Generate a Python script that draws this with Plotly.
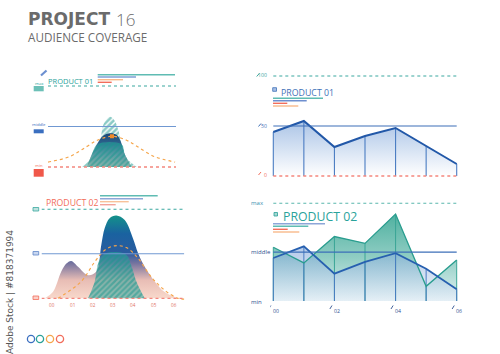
import plotly.graph_objects as go

W, H = 500, 354
def PX(x): return x / W
def PY(y): return 1 - y / H

# ---------------- data ----------------
levels = [0, 50, 100]
p1_orange_x = [-0.5, 0.7, 1.6, 2.2, 3.0, 3.8, 4.4, 5.3, 6.45]
p1_orange_y = [6, 13, 25, 33, 38, 33, 25, 13, 6]
p1_hatch_x = [1.34, 2.07, 2.34, 2.52, 2.71, 2.89, 3.12, 3.34, 3.53, 3.80, 4.35]
p1_hatch_y = [0, 15, 31, 52, 59, 62, 58, 46, 27, 11, 0]
p1_dark_x = [1.62, 1.89, 2.25, 2.52, 2.89, 3.26, 3.49, 3.71, 4.08]
p1_dark_y = [0, 15, 31, 38.6, 41.6, 39.5, 31, 15, 0]
p1_dark_low_x = [1.62, 1.89, 2.2, 3.52, 3.71, 4.08]
p1_dark_low_y = [0, 15, 28, 28, 15, 0]
p1_peak = (3.0, 38)

p2_shape_x = [-0.34, 0.06, 0.47, 0.72, 0.96, 1.29, 1.78, 2.19, 2.43, 2.60, 2.84, 3.17, 3.58, 3.99, 4.23, 4.56, 5.05, 5.54, 6.19]
p2_shape_y = [0, 7, 30, 39, 42, 35.5, 26, 30, 60, 79, 90, 93, 88, 67, 51, 35.5, 19, 7, 0]
p2_orange_x = [0.31, 1.45, 2.11, 2.60, 3.09, 3.66, 4.23, 4.88, 5.54, 6.19, 6.5]
p2_orange_y = [0, 19, 41, 54, 59, 57, 45, 24, 9, 0, -1]
p2_hatch_x = [1.78, 2.11, 2.27, 2.51, 3.09, 3.66, 3.90, 4.15, 4.56]
p2_hatch_y = [0, 19, 39, 49, 52, 49, 37, 19, 0]
p2_ticks = ["00", "01", "02", "03", "04", "05", "06"]

line_x = [0, 1, 2, 3, 4, 5, 6]
p3_values = [44, 55, 29, 40, 48, 30, 12]
p4_teal = [55, 39, 66, 59, 89, 15, 42]
p4_blue = [44, 56, 28, 40, 49, 33, 12]
p3_labels = ["0", "50", "100"]
p4_labels = ["min", "middle", "max"]
p4_ticks = ["00", "02", "04", "06"]
p4_tickpos = [0, 2, 4, 6]

TEAL = '#2aa39b'
BLUE = '#3466b4'
ORANGE = '#f5a54a'
RED = '#f26d5b'

fig = go.Figure()

def sc(ax, **kw):
    kw.setdefault('hoverinfo', 'skip')
    fig.add_trace(go.Scatter(xaxis='x' + ax if ax != '1' else 'x',
                             yaxis='y' + ax if ax != '1' else 'y', **kw))

HATCH = dict(shape='/', fgcolor='#17978d', size=4, solidity=0.65)

# ---------------- panel 1 ----------------
sc('1', x=p1_hatch_x, y=p1_hatch_y, mode='lines', line=dict(width=0, shape='spline', color=TEAL),
   fill='tozeroy', fillpattern=dict(HATCH, bgcolor='white'))
sc('1', x=p1_dark_x, y=p1_dark_y, mode='lines', line=dict(width=0, shape='spline', color='#1d4f80'),
   fill='tozeroy', fillgradient=dict(type='vertical', start=0, stop=42,
                                     colorscale=[[0, '#edc7bd'], [0.35, '#8a94ad'], [0.65, '#2f6790'], [1, '#1b4677']]))
sc('1', x=p1_dark_low_x, y=p1_dark_low_y, mode='lines', line=dict(width=0, shape='spline', color=TEAL),
   fill='tozeroy', fillpattern=dict(HATCH, solidity=0.5))
sc('1', x=p1_orange_x, y=p1_orange_y, mode='lines',
   line=dict(width=1.2, shape='spline', color=ORANGE, dash='dot'))
sc('1', x=[p1_peak[0]], y=[p1_peak[1]], mode='markers',
   marker=dict(size=4, color='#f08a2a', symbol='square'))

# ---------------- panel 2 ----------------
sc('2', x=p2_shape_x, y=p2_shape_y, mode='lines', line=dict(width=0, shape='spline', color='#1d5f9e'),
   fill='tozeroy', fillgradient=dict(type='vertical', start=0, stop=93,
       colorscale=[[0, '#f8d8cb'], [0.22, '#e8bdb5'], [0.42, '#77749f'], [0.55, '#2a5c9f'],
                   [0.78, '#1a62a0'], [1, '#13928a']]))
sc('2', x=p2_hatch_x, y=p2_hatch_y, mode='lines', line=dict(width=0, shape='spline', color=TEAL),
   fill='tozeroy', fillpattern=dict(HATCH, solidity=0.55))
sc('2', x=p2_orange_x, y=p2_orange_y, mode='lines',
   line=dict(width=1.2, shape='spline', color=ORANGE, dash='dot'))

# ---------------- panel 3 ----------------
sc('3', x=line_x, y=p3_values, mode='lines', line=dict(width=0, color=BLUE),
   fill='tozeroy', fillgradient=dict(type='vertical', start=0, stop=56,
                                     colorscale=[[0, 'rgba(255,255,255,1)'], [1, '#a9c3e6']]))
vx, vy = [], []
for xv, yv in zip(line_x, p3_values):
    vx += [xv, xv, None]; vy += [0, yv, None]
sc('3', x=vx, y=vy, mode='lines', line=dict(width=1.1, color='#4a7cc2'))
sc('3', x=line_x, y=p3_values, mode='lines', line=dict(width=2, color='#2258a8'), cliponaxis=False)

# ---------------- panel 4 ----------------
sc('4', x=line_x, y=p4_teal, mode='lines', line=dict(width=0, color=TEAL),
   fill='tozeroy', fillgradient=dict(type='vertical', start=0, stop=90,
                                     colorscale=[[0, '#e3f2f3'], [0.5, '#8fcdc3'], [1, '#4eb09f']]))
sc('4', x=line_x, y=p4_blue, mode='lines', line=dict(width=0, color=BLUE),
   fill='tozeroy', fillgradient=dict(type='vertical', start=0, stop=56,
                                     colorscale=[[0, 'rgba(230,238,248,0.6)'], [1, 'rgba(120,160,215,0.55)']]))
tx, ty = [], []
for xv, yv in zip(line_x, p4_teal):
    tx += [xv, xv, None]; ty += [0, yv, None]
sc('4', x=tx, y=ty, mode='lines', line=dict(width=1, color='#3aa596'))
bx, by = [], []
for xv, yv in zip(line_x, p4_blue):
    bx += [xv, xv, None]; by += [0, yv, None]
sc('4', x=bx, y=by, mode='lines', line=dict(width=1, color='#4a7cc2'))
sc('4', x=line_x, y=p4_teal, mode='lines', line=dict(width=1.3, color='#2a9d8f'), cliponaxis=False)
sc('4', x=line_x, y=p4_blue, mode='lines', line=dict(width=1.8, color='#2760b0'), cliponaxis=False)

# ---------------- axes ----------------
def dom_x(a, b): return [PX(a), PX(b)]
def dom_y(top, bot): return [PY(bot), PY(top)]
ax_common = dict(visible=False, fixedrange=True)
fig.update_layout(
    xaxis=dict(domain=dom_x(48, 176), range=[-0.5, 6.5], anchor='y', **ax_common),
    yaxis=dict(domain=dom_y(84.4, 168.6), range=[-2, 102], anchor='x', **ax_common),
    xaxis2=dict(domain=dom_x(41.5, 184.3), range=[-0.5, 6.5], anchor='y2', **ax_common),
    yaxis2=dict(domain=dom_y(207.5, 300.1), range=[-2, 102], anchor='x2', **ax_common),
    xaxis3=dict(domain=dom_x(270.24, 459.76), range=[-0.1, 6.1], anchor='y3', **ax_common),
    yaxis3=dict(domain=dom_y(72, 180), range=[-4, 104], anchor='x3', **ax_common),
    xaxis4=dict(domain=dom_x(270.24, 459.76), range=[-0.1, 6.1], anchor='y4', **ax_common),
    yaxis4=dict(domain=dom_y(199.4, 304.9), range=[-4, 104], anchor='x4', **ax_common),
)

shapes = []
def hline(xr, yr, x0, x1, y, color, width=1.0, dash='solid', layer='below'):
    shapes.append(dict(type='line', xref=xr, yref=yr, x0=x0, x1=x1, y0=y, y1=y,
                       line=dict(color=color, width=width, dash=dash), layer=layer))

# reference lines
for ax, x0, x1 in [('', -0.5, 6.5), ('2', -0.5, 6.5)]:
    hline('x' + ax, 'y' + ax, x0, x1, levels[2], '#3aa8a0', 1.1, 'dot')
    hline('x' + ax, 'y' + ax, x0, x1, levels[1], '#7098d2', 1.1, 'solid', 'above')
    hline('x' + ax, 'y' + ax, x0, x1, levels[0], '#f3867e', 1.3, 'dot', 'above')
hline('x3', 'y3', 0, 6, levels[2], '#3aa8a0', 1.1, 'dot')
hline('x3', 'y3', 0, 6, levels[1], '#3c6fb8', 1.2, 'solid', 'above')
hline('x3', 'y3', 0, 6, levels[0], '#f3867e', 1.3, 'dot', 'above')
hline('x4', 'y4', 0, 6, levels[2], '#5ab7ad', 1.1, 'dot')
hline('x4', 'y4', 0, 6, levels[1], '#3c6fb8', 1.2, 'solid', 'above')

# decorative legend bars (pixel positions)
def pbar(x0, x1, y, color, width=1.4):
    shapes.append(dict(type='line', xref='paper', yref='paper', x0=PX(x0), x1=PX(x1),
                       y0=PY(y), y1=PY(y), line=dict(color=color, width=width)))
pbar(97.7, 175, 74.7, '#5fbcb3'); pbar(97.7, 136, 77, '#7f9fd6'); pbar(97.7, 123, 79.7, '#f8b98a'); pbar(97.7, 111.7, 82.3, '#f26d5b')
pbar(100, 157.7, 195.7, '#5fbcb3'); pbar(100, 143, 198.7, '#8ea6d8'); pbar(100, 128.7, 201.7, '#f8c29a'); pbar(100, 115.7, 204.7, '#f3a39a')
pbar(273, 323, 98.3, '#5fbcb3'); pbar(273, 306.7, 100.7, '#6f8fcf'); pbar(273, 287.3, 103.3, '#f26d5b'); pbar(273, 298.3, 106, '#f8b98a')
pbar(273, 325, 223.7, '#8ea6d8'); pbar(273, 308.3, 226.3, '#5fbcb3'); pbar(273, 287.7, 229.3, '#f26d5b'); pbar(273, 299.3, 232, '#f8b98a')

def prect(x0, x1, y0, y1, fill, line=None):
    shapes.append(dict(type='rect', xref='paper', yref='paper', x0=PX(x0), x1=PX(x1),
                       y0=PY(y1), y1=PY(y0), fillcolor=fill,
                       line=dict(width=0.8 if line else 0, color=line or fill)))
# panel 1 side legend blocks
prect(33.7, 43.7, 86, 91.3, '#6cc0b7')
prect(33.7, 43.7, 129.3, 133.3, '#3a6fc0')
prect(33.7, 43.7, 169, 176.7, '#f0584a')
# panel 2 side marks
prect(33, 38.7, 207.5, 211, '#bfe3df', '#3aa8a0')
prect(33, 38.7, 251.5, 255, '#c9d7f0', '#5f86c8')
prect(33, 38.7, 296, 299.5, '#fbd0c8', '#f26d5b')
# icons
prect(272.7, 276.5, 87.7, 91.3, '#a9bfe6', '#3f72b8')
prect(274, 277.5, 212.5, 216, '#a6d8d2', '#2aa198')
shapes.append(dict(type='line', xref='paper', yref='paper', x0=PX(41), x1=PX(46.5), y0=PY(75.5), y1=PY(70.5),
                   line=dict(color='#6b8fd0', width=2.2)))
# small slashes panel 3 / 4
for (xa, ya, xb, yb, c) in [(256.7, 76.5, 259.3, 73.5, '#3aa8a0'), (258.5, 126.5, 261, 123.5, '#3f72b8'),
                            (258.5, 175, 261, 172, '#f26d5b')]:
    shapes.append(dict(type='line', xref='paper', yref='paper', x0=PX(xa), x1=PX(xb), y0=PY(ya), y1=PY(yb),
                       line=dict(color=c, width=1)))
for tv in p4_tickpos:
    shapes.append(dict(type='line', xref='x4', yref='paper', x0=tv - 0.15, x1=tv - 0.08,
                       y0=PY(309), y1=PY(305.5), line=dict(color='#2c4f8f', width=0.9)))
# bottom circles
for cx, c in zip([31, 40, 50, 60], ['#3b6fc0', '#2aa198', ORANGE, RED]):
    shapes.append(dict(type='circle', xref='paper', yref='paper', x0=PX(cx - 3.6), x1=PX(cx + 3.6),
                       y0=PY(339 + 3.6), y1=PY(339 - 3.6), line=dict(color=c, width=1.3)))

ann = []
def txt(x, y, s, size, color, xanchor='left', weight=None, family='Open Sans', xref='paper', **kw):
    f = dict(size=size, color=color, family=family)
    if weight: f['weight'] = weight
    ann.append(dict(x=PX(x) if xref == 'paper' else x, y=PY(y), xref=xref, yref='paper', text=s,
                    showarrow=False, xanchor=xanchor, yanchor='middle', font=f, borderpad=0, **kw))

txt(27, 19, "PROJECT", 17, '#6b6b6b', weight=700, family='DejaVu Sans')
txt(115, 19, "16", 17, '#6b6b6b', weight=300, family='Open Sans')
txt(27, 36.5, "AUDIENCE COVERAGE", 11.7, '#6b6b6b')
txt(47, 80.5, "PRODUCT 01", 7.5, TEAL)
txt(45, 203, "PRODUCT 02", 8.7, RED)
txt(279.8, 92.7, "PRODUCT 01", 8.8, '#3f72b8')
txt(282.3, 216, "PRODUCT 02", 12.3, TEAL)
txt(39, 83.3, "max", 4.2, TEAL, 'center')
txt(39, 124.3, "middle", 4.2, '#3a6fc0', 'center')
txt(39, 165.7, "min", 4.2, RED, 'center')
for lab, yy, c in zip(p3_labels, [174.5, 125.5, 75.3], [RED, '#3f72b8', '#3aa8a0']):
    txt(267.5, yy, lab, 5.2, c, 'right')
for lab, yy, c in zip(p4_labels, [301.5, 251.8, 202.7], ['#2c4f8f', '#2c4f8f', '#3a8fb0']):
    txt(249.5, yy, lab, 6, c, 'left')
for i, lab in enumerate(p2_ticks):
    txt(i, 304.5, lab, 4.6, '#e0705e', 'center', xref='x2')
for tv, lab in zip(p4_tickpos, p4_ticks):
    txt(tv + 0.08, 310.7, lab, 5.2, '#2c4f8f', 'center', xref='x4')
ann.append(dict(x=PX(10), y=PY(292), xref='paper', yref='paper', text="Adobe Stock | #818371994",
                showarrow=False, textangle=-90, xanchor='center', yanchor='middle',
                font=dict(size=9, color='#555555', family='DejaVu Sans')))

fig.update_layout(width=W, height=H, margin=dict(l=0, r=0, t=0, b=0),
                  paper_bgcolor='white', plot_bgcolor='white', showlegend=False,
                  shapes=shapes, annotations=ann)
fig.write_html("out.html")
